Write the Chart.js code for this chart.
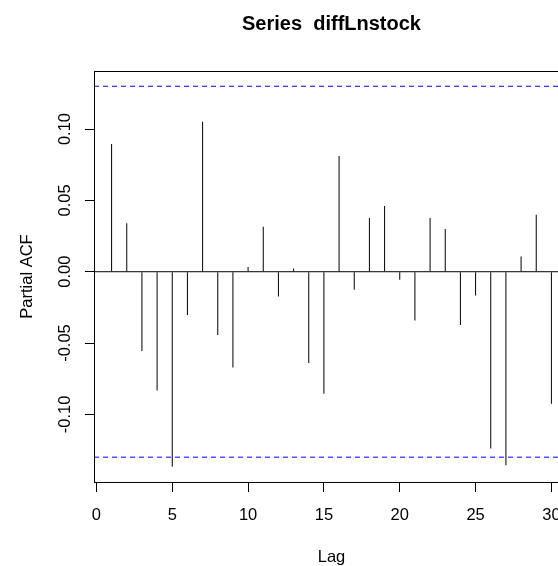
<!DOCTYPE html>
<html>
<head>
<meta charset="utf-8">
<title>Series diffLnstock</title>
<script src="https://cdn.jsdelivr.net/npm/chart.js@4.4.1/dist/chart.umd.min.js"></script>
<style>
    html, body { margin: 0; padding: 0; background: #fff; }
    #wrap { width: 558px; height: 566px; overflow: hidden; }
</style>
</head>
<body>
<div id="wrap"><canvas id="pacfChart" width="600" height="566"></canvas></div>
<script>
// partial autocorrelations of diffLnstock, lags 1..30
const lags = [1, 2, 3, 4, 5, 6, 7, 8, 9, 10, 11, 12, 13, 14, 15,
              16, 17, 18, 19, 20, 21, 22, 23, 24, 25, 26, 27, 28, 29, 30];
const pacfValues = [0.0895, 0.0339, -0.0556, -0.0832, -0.1367, -0.0304, 0.1052, -0.0444, -0.0671, 0.0033,
                    0.0316, -0.0173, 0.0023, -0.0640, -0.0856, 0.0811, -0.0126, 0.0376, 0.0461, -0.0056,
                    -0.0342, 0.0376, 0.0299, -0.0374, -0.0166, -0.1239, -0.1356, 0.0107, 0.0400, -0.0926];
const confLimit = 0.13;

const xTicks = [0, 5, 10, 15, 20, 25, 30];
const yTicks = [-0.10, -0.05, 0, 0.05, 0.10];
const yTickLabels = ["-0.10", "-0.05", "0.00", "0.05", "0.10"];

// axis ranges (data range padded by 4%)
const xMin = -0.16, xMax = 31.16;
const yMin = -0.1474, yMax = 0.1407;

const font = "'Liberation Sans', Arial, sans-serif";

// horizontal reference line across the whole x range
function hLine(y, color, dash) {
    return {
        type: "line",
        data: [{ x: xMin, y: y }, { x: xMax, y: y }],
        borderColor: color,
        borderWidth: 1,
        borderDash: dash,
        pointRadius: 0,
    };
}

// title, tick labels, axis titles and the box around the plot
const rLabels = {
    id: "rLabels",
    afterDraw(chart) {
        const ctx = chart.ctx;
        const area = chart.chartArea;
        const xs = chart.scales.x;
        const ys = chart.scales.y;
        const midX = (area.left + area.right) / 2;

        ctx.save();
        ctx.strokeStyle = "#000";
        ctx.lineWidth = 1;
        ctx.strokeRect(Math.round(area.left) + 0.5, Math.round(area.top) + 0.5,
            Math.round(area.right - area.left), Math.round(area.bottom - area.top));

        ctx.fillStyle = "#000";
        ctx.textAlign = "center";
        ctx.textBaseline = "alphabetic";

        ctx.font = "bold 20px " + font;
        ctx.fillText("Series  diffLnstock", midX, 30);

        ctx.font = "16.5px " + font;
        xTicks.forEach((v) => {
            ctx.fillText(String(v), xs.getPixelForValue(v), 520);
        });
        ctx.fillText("Lag", midX, 562);

        yTicks.forEach((v, i) => {
            ctx.save();
            ctx.translate(70, ys.getPixelForValue(v));
            ctx.rotate(-Math.PI / 2);
            ctx.fillText(yTickLabels[i], 0, 0);
            ctx.restore();
        });

        ctx.save();
        ctx.translate(31.5, (area.top + area.bottom) / 2);
        ctx.rotate(-Math.PI / 2);
        ctx.fillText("Partial ACF", 0, 0);
        ctx.restore();
        ctx.restore();
    },
};

const ctx = document.getElementById("pacfChart").getContext("2d");

new Chart(ctx, {
    type: "bar",
    data: {
        datasets: [
            {
                data: lags.map((lag, i) => ({ x: lag, y: pacfValues[i] })),
                backgroundColor: "#000",
                borderWidth: 0,
                inflateAmount: 0,
                barThickness: 1,
            },
            hLine(0, "#000", []),
            hLine(confLimit, "#0000ff", [5, 4]),
            hLine(-confLimit, "#0000ff", [5, 4]),
        ],
    },
    options: {
        responsive: false,
        animation: false,
        devicePixelRatio: 1,
        layout: {
            padding: { top: 71, right: 31, bottom: 0, left: 0 },
        },
        plugins: {
            legend: { display: false },
            tooltip: { enabled: false },
        },
        scales: {
            x: {
                type: "linear",
                min: xMin,
                max: xMax,
                offset: false,
                afterBuildTicks: (scale) => {
                    scale.ticks = xTicks.map((v) => ({ value: v }));
                },
                afterFit: (scale) => {
                    scale.height = 84;
                },
                ticks: { display: false },
                grid: {
                    offset: false,
                    drawOnChartArea: false,
                    drawTicks: true,
                    tickLength: 10,
                    color: "#000",
                },
                border: { display: true, color: "#000" },
            },
            y: {
                min: yMin,
                max: yMax,
                afterBuildTicks: (scale) => {
                    scale.ticks = yTicks.map((v) => ({ value: v }));
                },
                afterFit: (scale) => {
                    scale.width = 94;
                },
                ticks: { display: false },
                grid: {
                    drawOnChartArea: false,
                    drawTicks: true,
                    tickLength: 9,
                    color: "#000",
                },
                border: { display: true, color: "#000" },
            },
        },
    },
    plugins: [rLabels],
});
</script>
</body>
</html>
